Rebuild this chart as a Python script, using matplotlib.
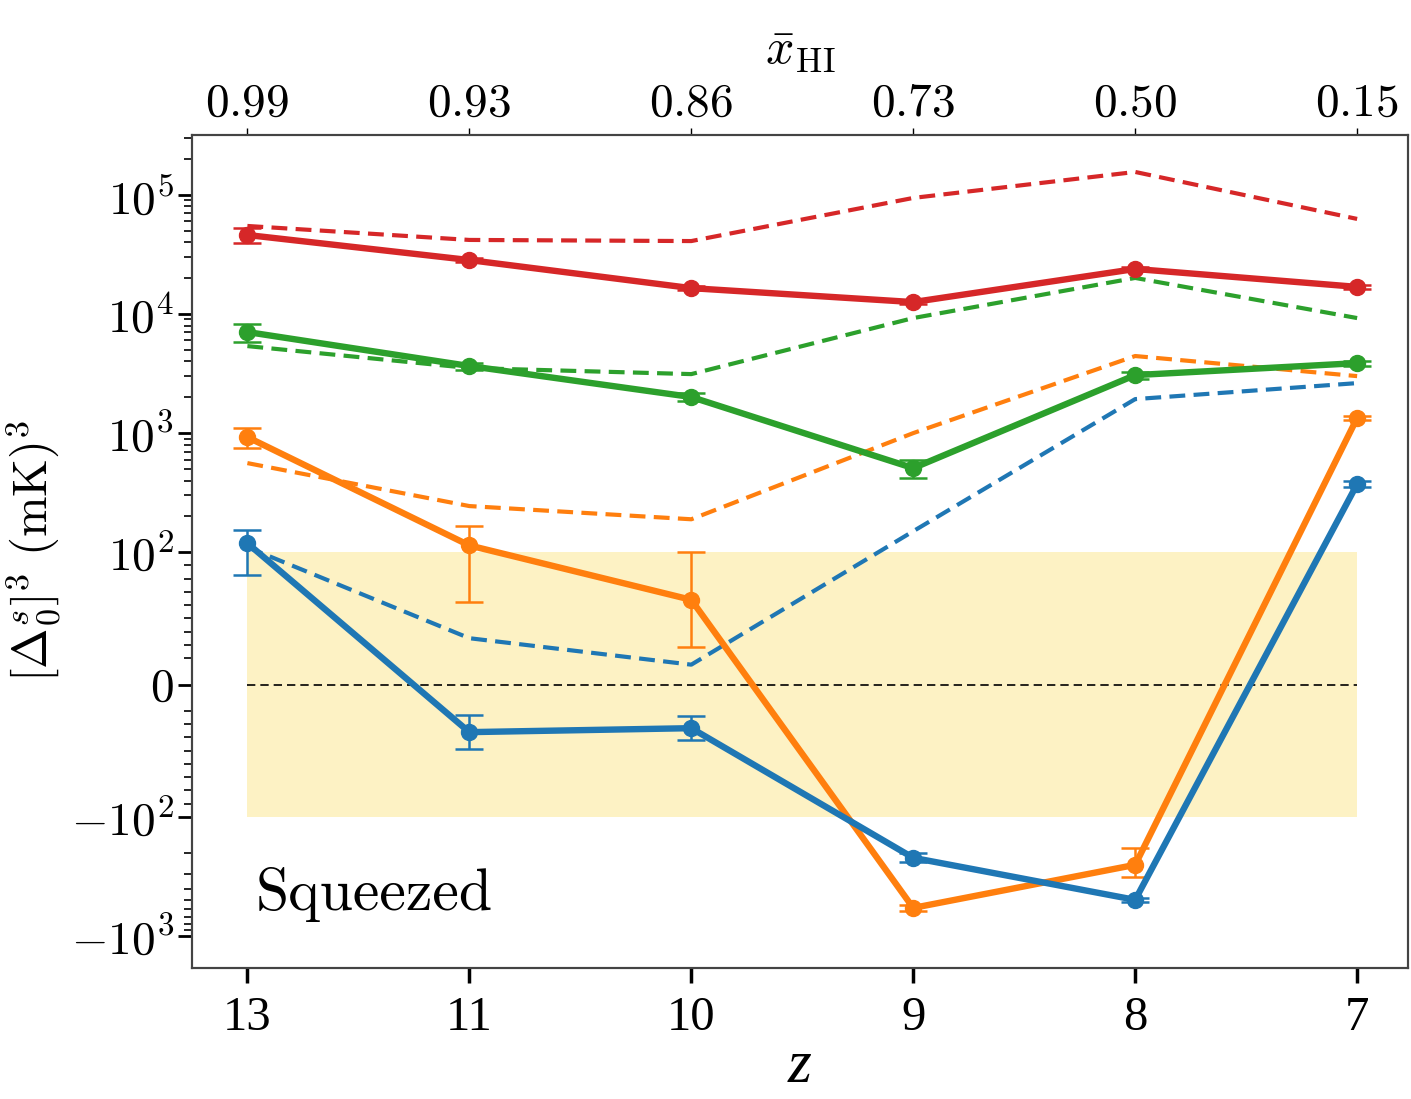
import matplotlib
matplotlib.use('Agg')
import matplotlib.pyplot as plt
from matplotlib.ticker import FixedLocator, NullFormatter

plt.rcParams['font.family'] = 'serif'
plt.rcParams['font.serif'] = ['cmr10', 'DejaVu Serif']
plt.rcParams['mathtext.fontset'] = 'cm'
plt.rcParams['axes.unicode_minus'] = False

# data
z_labels = ['13', '11', '10', '9', '8', '7']
xhi_labels = ['0.99', '0.93', '0.86', '0.73', '0.50', '0.15']

red_val = [46100, 28400, 16500, 12600, 23900, 16900]
red_err = [6600, 1200, 700, 500, 1000, 700]
red_ref = [54900, 41900, 41000, 94400, 156000, 62900]

green_val = [7060, 3660, 2010, 508, 3070, 3870]
green_err = [1250, 250, 150, 88, 200, 200]
green_ref = [5380, 3520, 3130, 9250, 20100, 9250]

orange_val = [926, 114, 64, -582, -253, 1340]
orange_err = [175, 52, 36, 30, 70, 60]
orange_ref = [560, 244, 189, 1000, 4440, 3010]

blue_val = [119, -36, -33, -221, -498, 373]
blue_err = [36, 13, 9, 18, 20, 20]
blue_ref = [110, 35, 15, 150, 1930, 2630]

band_lo, band_hi = -100, 100

x = list(range(len(z_labels)))

fig = plt.figure(figsize=(14.11, 10.99), dpi=100)
ax = fig.add_axes([0.136, 0.1192, 0.862, 0.758])
ax.set_yscale('symlog', linthresh=100, linscale=1)

ax.fill_between([x[0], x[-1]], band_lo, band_hi, color='#fdf2c4', lw=0, zorder=0)
ax.plot([x[0], x[-1]], [0, 0], color='black', lw=1.2, ls='--', dashes=(5, 3), zorder=1)

series = [
    ('tab:red', red_val, red_err, red_ref),
    ('tab:green', green_val, green_err, green_ref),
    ('tab:orange', orange_val, orange_err, orange_ref),
    ('tab:blue', blue_val, blue_err, blue_ref),
]
for c, v, e, r in series:
    ax.plot(x, r, color=c, lw=3.0, ls='--', dashes=(3.8, 2.0), zorder=2)
    ax.errorbar(x, v, yerr=e, color=c, fmt='-o', lw=4.6, ms=11.5,
                elinewidth=1.8, capsize=10, capthick=1.8, zorder=3)

ax.set_xlim(-0.25, 5.23)
ax.set_ylim(-1860, 3.19e5)

ax.set_yticks([-1000, -100, 0, 100, 1000, 1e4, 1e5])
ax.set_yticklabels([r'$-10^3$', r'$-10^2$', r'$0$', r'$10^2$', r'$10^3$', r'$10^4$', r'$10^5$'],
                   fontsize=34)
minors = []
for dec in [100, 1000, 10000, 100000]:
    for k in range(2, 10):
        minors.append(k * dec)
for dec in [100, 1000]:
    for k in range(2, 10):
        minors.append(-k * dec)
for k in range(2, 10):
    minors.append(k * 10)
    minors.append(-k * 10)
ax.yaxis.set_minor_locator(FixedLocator(minors))
ax.yaxis.set_minor_formatter(NullFormatter())
ax.tick_params(axis='y', which='major', length=10, width=2, pad=3)
ax.tick_params(axis='y', which='minor', length=6, width=1.2)

ax.set_xticks(x)
ax.set_xticklabels(z_labels, fontsize=35, family='Liberation Serif')
ax.tick_params(axis='x', which='major', length=11, width=2.5, pad=9)
ax.set_xlabel('z', fontsize=44, family='Liberation Serif', style='italic', labelpad=0)

ax.set_ylabel(r'$[\Delta_0^s]^3\ (\mathrm{mK})^3$', fontsize=35, labelpad=6)

top = ax.twiny()
top.set_xlim(ax.get_xlim())
top.set_xticks(x)
top.set_xticklabels([r'$%s$' % s for s in xhi_labels], fontsize=34)
top.tick_params(axis='x', length=5, width=1, pad=2)
top.set_xlabel(r'$\bar{x}_{\mathrm{HI}}$', fontsize=36, labelpad=14)

for a in (ax, top):
    for s in a.spines.values():
        s.set_color('#444444')
        s.set_linewidth(1.5)

ax.text(0.052, 0.07, 'Squeezed', transform=ax.transAxes, fontsize=43,
        ha='left', va='baseline')

fig.savefig('out.png', dpi=100)
